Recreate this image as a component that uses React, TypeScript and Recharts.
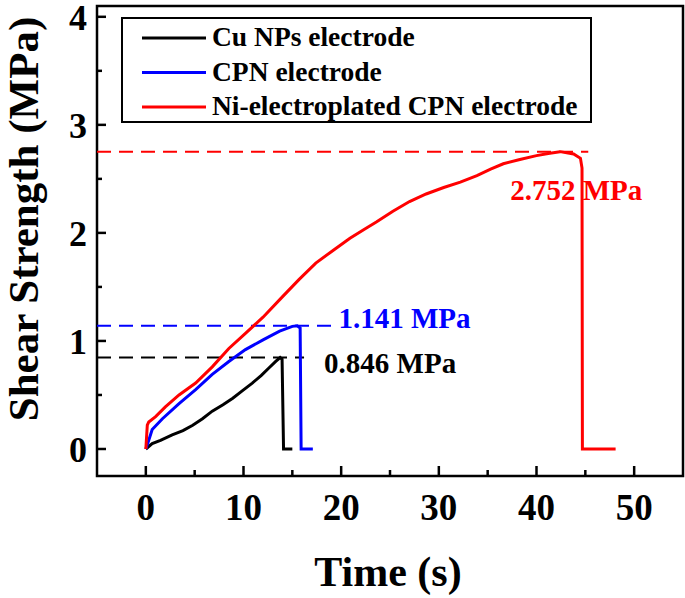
import { Label, Legend, Line, LineChart, ReferenceArea, ReferenceLine, XAxis, YAxis } from "recharts";

const cuTime = [0, 0.65, 1.5, 2.7, 3.8, 4.8, 5.8, 6.8, 7.9, 8.9, 9.9, 10.9, 11.8, 12.6, 13.3, 13.75, 13.95, 14.1, 15.0];
const cuStrength = [0, 0.05, 0.08, 0.13, 0.17, 0.22, 0.28, 0.35, 0.41, 0.47, 0.54, 0.61, 0.68, 0.75, 0.81, 0.846, 0.83, 0, 0];

const cpnTime = [0, 0.3, 0.65, 1.7, 3.4, 5.1, 6.8, 8.5, 10.2, 12.0, 13.7, 15.0, 15.5, 15.8, 15.9, 17.1];
const cpnStrength = [0, 0.08, 0.18, 0.28, 0.42, 0.55, 0.69, 0.81, 0.92, 1.01, 1.09, 1.135, 1.141, 1.12, 0, 0];

const niTime = [
  0, 0.15, 0.3, 1.0, 2.0, 3.4, 5.1, 6.8, 8.5, 10.2, 12.0, 14.0, 15.7, 17.4, 19.2, 20.9, 22.3, 23.6, 25.3, 27.0,
  28.7, 30.5, 32.2, 33.9, 35.3, 36.6, 38.3, 40.0, 41.2, 42.4, 43.8, 44.5, 44.66, 44.7, 48.1,
];
const niStrength = [
  0, 0.22, 0.25, 0.3, 0.39, 0.5, 0.61, 0.76, 0.93, 1.07, 1.22, 1.41, 1.57, 1.72, 1.84, 1.95, 2.03, 2.1, 2.2, 2.29,
  2.36, 2.42, 2.47, 2.53, 2.59, 2.64, 2.68, 2.715, 2.735, 2.752, 2.73, 2.69, 2.6, 0, 0,
];

const seriesNames = ["Cu NPs electrode", "CPN electrode", "Ni-electroplated CPN electrode"];
const seriesColors = ["#000000", "#0000ff", "#ff0000"];

const peakValues = [0.846, 1.141, 2.752];
const peakLabels = ["0.846 MPa", "1.141 MPa", "2.752 MPa"];
const peakLineEnds = [16.2, 19.0, 45.3];

const xTicks = [0, 5, 10, 15, 20, 25, 30, 35, 40, 45, 50];
const yTicks = [0, 0.5, 1, 1.5, 2, 2.5, 3, 3.5, 4];

const FONT = "'Liberation Serif', 'Times New Roman', serif";

const toPoints = (t: number[], s: number[]) => t.map((time, i) => ({ time, value: s[i] }));
const seriesData = [toPoints(cuTime, cuStrength), toPoints(cpnTime, cpnStrength), toPoints(niTime, niStrength)];

// label offsets from the end of each dashed line
const labelOffsets = [
  { dx: 20, dy: 15 },
  { dx: 7, dy: 2 },
  { dx: -78, dy: 48 },
];

const XTick = (props: any) => {
  const { x, y, payload } = props;
  const major = payload.value % 10 === 0;
  return (
    <g>
      <line x1={x} y1={y} x2={x} y2={y - (major ? 10 : 6)} stroke="#000" strokeWidth={2.5} />
      {major && (
        <text x={x} y={y + 44} textAnchor="middle" fontFamily={FONT} fontWeight="bold" fontSize={37} fill="#000">
          {payload.value}
        </text>
      )}
    </g>
  );
};

const YTick = (props: any) => {
  const { x, y, payload } = props;
  const major = Number.isInteger(payload.value);
  return (
    <g>
      <line x1={x} y1={y} x2={x + (major ? 9 : 5)} y2={y} stroke="#000" strokeWidth={2.5} />
      {major && (
        <text x={x - 10} y={y + 13} textAnchor="end" fontFamily={FONT} fontWeight="bold" fontSize={36} fill="#000">
          {payload.value}
        </text>
      )}
    </g>
  );
};

const LegendBox = () => (
  <svg width={471} height={106} style={{ display: "block" }}>
    <rect x={1} y={1} width={469} height={104} fill="#fff" stroke="#000" strokeWidth={2} />
    {seriesNames.map((name, i) => (
      <g key={name}>
        <line x1={21} x2={85} y1={21 + i * 34.5} y2={21 + i * 34.5} stroke={seriesColors[i]} strokeWidth={3} />
        <text x={91} y={29 + i * 34.5} fontFamily={FONT} fontWeight="bold" fontSize={27.5} fill="#000">
          {name}
        </text>
      </g>
    ))}
  </svg>
);

export default function App() {
  return (
    <div style={{ position: "absolute", left: 0, top: 0, width: 685, height: 598, background: "#fff" }}>
      <LineChart width={685} height={598} margin={{ top: 6, right: 2, bottom: 0, left: 0 }}>
        <XAxis
          dataKey="time"
          type="number"
          domain={[-5, 55]}
          ticks={xTicks}
          allowDataOverflow
          height={122}
          axisLine={false}
          tickLine={false}
          tickSize={0}
          tickMargin={0}
          tick={<XTick />}
          interval={0}
        >
          <Label
            content={(p: any) => (
              <text
                x={p.viewBox.x + p.viewBox.width / 2 - 2}
                y={586}
                textAnchor="middle"
                fontFamily={FONT}
                fontWeight="bold"
                fontSize={42}
                fill="#000"
              >
                Time (s)
              </text>
            )}
          />
        </XAxis>
        <YAxis
          type="number"
          domain={[-0.25, 4.1]}
          ticks={yTicks}
          allowDataOverflow
          width={97}
          axisLine={false}
          tickLine={false}
          tickSize={0}
          tickMargin={0}
          tick={<YTick />}
          interval={0}
        >
          <Label
            content={() => (
              <text
                x={38}
                y={219}
                transform="rotate(-90, 38, 219)"
                textAnchor="middle"
                fontFamily={FONT}
                fontWeight="bold"
                fontSize={43}
                fill="#000"
              >
                Shear Strength (MPa)
              </text>
            )}
          />
        </YAxis>
        <ReferenceArea x1={-5} x2={55} y1={-0.25} y2={4.1} fill="none" stroke="#000" strokeWidth={2.5} ifOverflow="visible" />
        {peakValues.map((v, i) => (
          <ReferenceLine
            key={peakLabels[i]}
            segment={[
              { x: -5, y: v },
              { x: peakLineEnds[i], y: v },
            ]}
            stroke={seriesColors[i]}
            strokeWidth={2}
            strokeDasharray="14 8"
            ifOverflow="visible"
          >
            <Label
              content={(p: any) => (
                <text
                  x={p.viewBox.x + p.viewBox.width + labelOffsets[i].dx}
                  y={p.viewBox.y + labelOffsets[i].dy}
                  fontFamily={FONT}
                  fontWeight="bold"
                  fontSize={29}
                  fill={seriesColors[i]}
                >
                  {peakLabels[i]}
                </text>
              )}
            />
          </ReferenceLine>
        ))}
        {seriesData.map((d, i) => (
          <Line
            key={seriesNames[i]}
            data={d}
            dataKey="value"
            name={seriesNames[i]}
            type="linear"
            stroke={seriesColors[i]}
            strokeWidth={3}
            dot={false}
            isAnimationActive={false}
          />
        ))}
        <Legend
          layout="vertical"
          align="center"
          verticalAlign="middle"
          wrapperStyle={{ left: 121, top: 17, width: 471, height: 106 }}
          content={() => <LegendBox />}
        />
      </LineChart>
    </div>
  );
}
